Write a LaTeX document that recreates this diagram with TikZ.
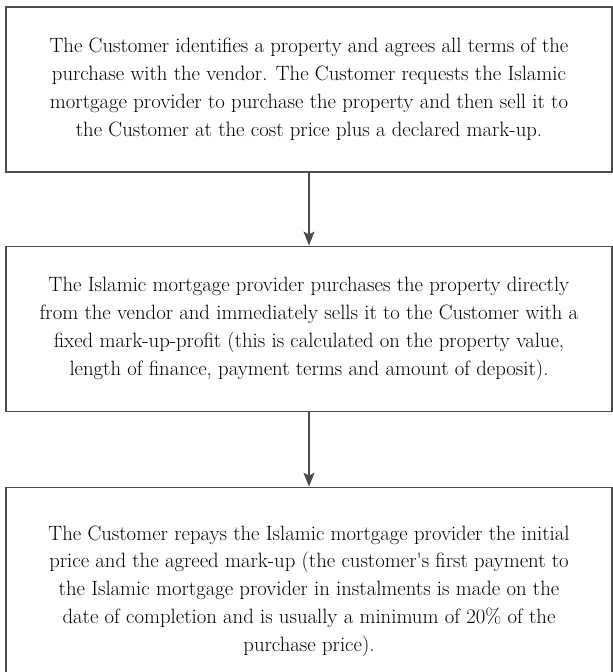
\documentclass[tikz,border=0pt]{standalone}
\usetikzlibrary{positioning, arrows.meta}

\begin{document}
\begin{tikzpicture}[
    x=1bp, y=1bp,
    >={Stealth[length=14bp, width=11bp, inset=3bp]},
    font=\fontsize{20.8}{28}\selectfont,
    node distance=73bp,
    block/.style={
        rectangle, draw=black!70, line width=1.1bp,
        minimum width=606bp, minimum height=165bp,
        align=center, inner sep=0pt
    },
    arrow/.style={->, draw=black!70, line width=1.1bp}
]

\useasboundingbox (0,0) rectangle (613,-672);

%% boxes
\node[block] (buy) at (309,-89.5)
    {The Customer identifies a property and agrees all terms of the\\
     purchase with the vendor. The Customer requests the Islamic\\
     mortgage provider to purchase the property and then sell it to\\
     the Customer at the cost price plus a declared mark-up.};

\node[block, below=of buy] (sell)
    {The Islamic mortgage provider purchases the property directly\\
     from the vendor and immediately sells it to the Customer with a\\
     fixed mark-up-profit (this is calculated on the property value,\\
     length of finance, payment terms and amount of deposit).};

\node[block, below=75bp of sell, minimum height=208bp] (repay)
    {The Customer repays the Islamic mortgage provider the initial\\
     price and the agreed mark-up (the customer\textquotesingle s first payment to\\
     the Islamic mortgage provider in instalments is made on the\\
     date of completion and is usually a minimum of 20\% of the\\
     purchase price).};

%% arrows
\draw[arrow] (buy)  -- (sell);
\draw[arrow] (sell) -- (repay);

\end{tikzpicture}
\end{document}
